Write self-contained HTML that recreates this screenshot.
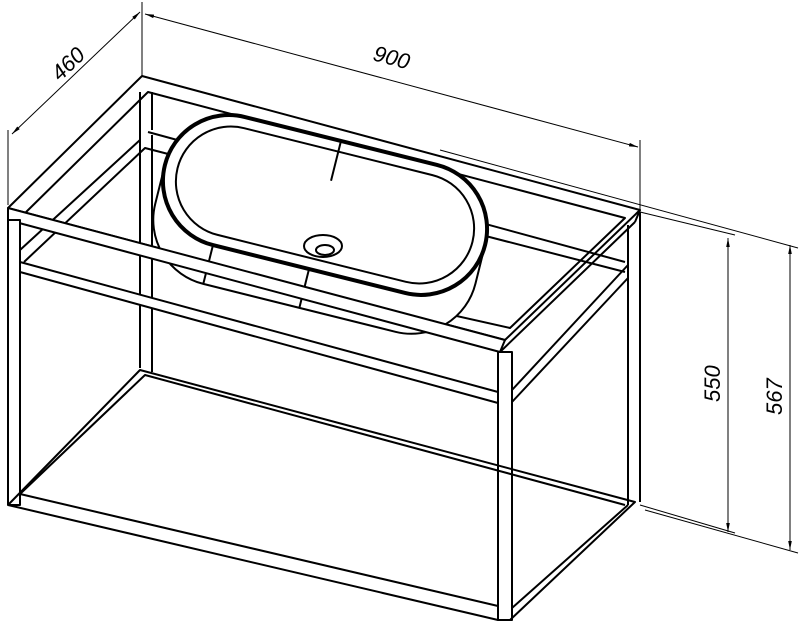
<!DOCTYPE html>
<html><head><style>html,body{margin:0;padding:0;background:#fff;}svg{display:block}</style></head>
<body>
<svg width="800" height="643" viewBox="0 0 800 643" xmlns="http://www.w3.org/2000/svg" fill="none" stroke="#000" stroke-width="2" stroke-linejoin="round">
<defs><marker id="a" viewBox="0 0 10 10" refX="10" refY="5" markerWidth="9" markerHeight="9" orient="auto-start-reverse"><path d="M0,3 L10,5 L0,7 z" fill="#000" stroke="none"/></marker></defs>
<g stroke-width="1">
<line x1="8" y1="205" x2="8" y2="130"/>
<line x1="142" y1="76" x2="142" y2="2"/>
<line x1="12" y1="134" x2="140" y2="12" marker-start="url(#a)" marker-end="url(#a)"/>
<line x1="145" y1="14" x2="638" y2="147" marker-start="url(#a)" marker-end="url(#a)"/>
<line x1="640" y1="210" x2="640" y2="140"/>
<line x1="440" y1="150" x2="798" y2="248"/>
<line x1="640" y1="212" x2="735" y2="235"/>
<line x1="728" y1="238" x2="728" y2="532" marker-start="url(#a)" marker-end="url(#a)"/>
<line x1="790" y1="245" x2="790" y2="550" marker-start="url(#a)" marker-end="url(#a)"/>
<line x1="640" y1="505" x2="735" y2="533"/>
<line x1="645" y1="510" x2="798" y2="553"/>
</g>
<g fill="#000" stroke="none" font-family="Liberation Sans, sans-serif" font-style="italic" font-size="22">
<text x="0" y="0" transform="translate(60,82) rotate(-44)">460</text>
<text x="0" y="0" transform="translate(372,60) rotate(15)">900</text>
<text x="0" y="0" transform="translate(720,402) rotate(-90)">550</text>
<text x="0" y="0" transform="translate(782,415) rotate(-90)">567</text>
</g>
<polygon points="8,208 142,76 640,210 505,340"/>
<polyline points="20,218 148,92 625,218 510,328 20,218"/>
<line x1="152" y1="92" x2="152" y2="130"/>
<polyline points="20,250 140,140"/><polyline points="24,262 145,148 625,272"/>
<polyline points="148,132 625,262"/>
<line x1="140" y1="92" x2="140" y2="368"/><line x1="152" y1="135" x2="152" y2="372"/>
<!-- basin -->
<g transform="rotate(14 325 205)">
<path d="M160,205 L160,245 A66,66 0 0 0 226,311 L424,311 A66,66 0 0 0 490,245 L490,205" fill="#fff"/>
<rect x="160" y="139" width="330" height="132" rx="66" stroke-width="4" fill="#fff"/>
<rect x="173" y="150" width="304" height="110" rx="55"/>
<line x1="325" y1="139" x2="325" y2="180"/>
<line x1="226" y1="271" x2="226" y2="311"/><line x1="325" y1="271" x2="325" y2="311"/>
</g>
<ellipse cx="323" cy="246" rx="19" ry="11"/>
<ellipse cx="325" cy="250" rx="9" ry="5"/>
<!-- front rails over basin -->
<polygon points="8,208 505,340 500,352 8,220" fill="#fff"/>
<polygon points="20,262 498,392 498,403 20,272" fill="#fff"/>
<line x1="500" y1="352" x2="635" y2="222"/><line x1="640" y1="210" x2="635" y2="222"/>
<rect x="8" y="220" width="12" height="285" fill="#fff"/>
<rect x="498" y="352" width="14" height="268" fill="#fff"/>
<line x1="628" y1="225" x2="628" y2="505"/><line x1="640" y1="212" x2="640" y2="502"/>
<polyline points="512,390 628,265"/><polyline points="512,402 628,278"/>
<polyline points="8,505 140,370 635,502 510,620"/>
<polyline points="8,505 498,620"/>
<polyline points="20,494 145,375 625,505"/>
<polyline points="20,494 498,606"/>
<polyline points="512,608 628,505"/>
</svg>
</body></html>
